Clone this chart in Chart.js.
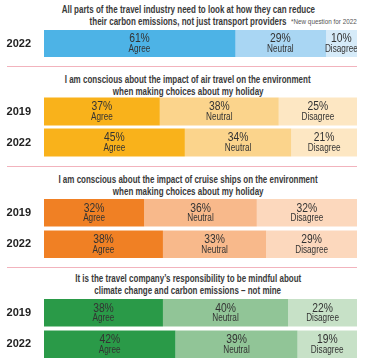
<!DOCTYPE html>
<html>
<head>
<meta charset="utf-8">
<script src="https://cdn.jsdelivr.net/npm/chart.js@4/dist/chart.umd.min.js"></script>
<style>
  html, body { margin: 0; padding: 0; background: #fff; }
  body { width: 365px; height: 363px; position: relative; overflow: hidden;
         font-family: "Liberation Sans", Arial, sans-serif; }
  .title { position: absolute; left: 13px; width: 350px; text-align: center;
           font-size: 10px; line-height: 11.5px; font-weight: bold; color: #3a3a3a; }
  .title span { display: inline-block; white-space: nowrap; transform: scaleX(0.8); transform-origin: center; }
  .note { position: absolute; left: 291px; top: 17px; font-size: 7.2px; color: #555; white-space: nowrap;
          transform: scaleX(0.88); transform-origin: left center; }
  .sep { position: absolute; left: 7px; width: 350px; height: 1px; background: #f2b3bd; }
  .box { position: absolute; left: 0; width: 357px; }
</style>
</head>
<body>
<div class="title" id="t1" style="top:4px"></div>
<div class="note">*New question for 2022</div>
<div class="sep" style="top:66px"></div>
<div class="title" id="t2" style="top:74px"></div>
<div class="sep" style="top:166px"></div>
<div class="title" id="t3" style="top:174px"></div>
<div class="sep" style="top:267px"></div>
<div class="title" id="t4" style="top:273px"></div>

<div class="box" style="top:30px;height:27px"><canvas id="c1"></canvas></div>
<div class="box" style="top:96px;height:62px"><canvas id="c2"></canvas></div>
<div class="box" style="top:197px;height:63px"><canvas id="c3"></canvas></div>
<div class="box" style="top:297px;height:63px"><canvas id="c4"></canvas></div>

<script>
// ---- data ----
const responseLabels = ['Agree', 'Neutral', 'Disagree'];

const industryTitle = ['All parts of the travel industry need to look at how they can reduce', 'their carbon emissions, not just transport providers'];
const industryYears = ['2022'];
const industryAgree = [61];
const industryNeutral = [29];
const industryDisagree = [10];

const airTitle = ['I am conscious about the impact of air travel on the environment', 'when making choices about my holiday'];
const airYears = ['2019', '2022'];
const airAgree = [37, 45];
const airNeutral = [38, 34];
const airDisagree = [25, 21];

const cruiseTitle = ['I am conscious about the impact of cruise ships on the environment', 'when making choices about my holiday'];
const cruiseYears = ['2019', '2022'];
const cruiseAgree = [32, 38];
const cruiseNeutral = [36, 33];
const cruiseDisagree = [32, 29];

const companyTitle = ['It is the travel company\u2019s responsibility to be mindful about', 'climate change and carbon emissions \u2013 not mine'];
const companyYears = ['2019', '2022'];
const companyAgree = [38, 42];
const companyNeutral = [40, 39];
const companyDisagree = [22, 19];

// ---- colours ----
const blueColors = ['#4db3e6', '#a9d6f3', '#d6ebf9'];
const goldColors = ['#f9b21b', '#fbd48c', '#fde7c3'];
const orangeColors = ['#f08024', '#f8b98b', '#fcd8bd'];
const greenColors = ['#2a9a48', '#91c597', '#c7e1c7'];

const FONT = '"Liberation Sans", Arial, sans-serif';

function setTitle(id, lines) {
  document.getElementById(id).innerHTML = lines.map(l => '<span>' + l + '</span>').join('<br>');
}
setTitle('t1', industryTitle);
setTitle('t2', airTitle);
setTitle('t3', cruiseTitle);
setTitle('t4', companyTitle);

function scaledText(ctx, txt, x, y, sx) {
  ctx.save();
  ctx.translate(x, y);
  ctx.scale(sx, 1);
  ctx.fillText(txt, 0, 0);
  ctx.restore();
}

const labelPlugin = {
  id: 'segLabels',
  afterDatasetsDraw(chart) {
    const ctx = chart.ctx;
    ctx.save();
    ctx.textAlign = 'center';
    ctx.textBaseline = 'middle';
    ctx.fillStyle = '#333';
    chart.data.datasets.forEach((ds, i) => {
      const meta = chart.getDatasetMeta(i);
      meta.data.forEach((bar, j) => {
        const p = bar.getProps(['x', 'y', 'base'], true);
        const cx = (p.x + p.base) / 2;
        ctx.font = '12px ' + FONT;
        scaledText(ctx, ds.data[j] + '%', cx, p.y - 4.5, 0.86);
        ctx.font = '10px ' + FONT;
        scaledText(ctx, ds.label, cx, p.y + 5.5, 0.82);
      });
    });
    ctx.restore();
  }
};

function makeChart(id, years, a, n, d, colors, barPct) {
  const vals = [a, n, d];
  new Chart(document.getElementById(id), {
    type: 'bar',
    data: {
      labels: years,
      datasets: responseLabels.map((lab, i) => ({
        label: lab,
        data: vals[i],
        backgroundColor: colors[i],
        borderWidth: 0,
        barPercentage: barPct,
        categoryPercentage: 1
      }))
    },
    options: {
      indexAxis: 'y',
      responsive: true,
      maintainAspectRatio: false,
      animation: false,
      events: [],
      layout: { padding: 0 },
      plugins: { legend: { display: false }, tooltip: { enabled: false }, title: { display: false } },
      scales: {
        x: { stacked: true, min: 0, max: 100, display: false },
        y: {
          stacked: true,
          grid: { display: false, drawTicks: false },
          border: { display: false },
          ticks: { color: '#222', font: { family: FONT, size: 11, weight: 'bold' }, padding: 13 },
          afterFit(scale) {
            scale.width = 44;
            scale.paddingTop = 0;
            scale.paddingBottom = 0;
          }
        }
      }
    },
    plugins: [labelPlugin]
  });
}

makeChart('c1', industryYears, industryAgree, industryNeutral, industryDisagree, blueColors, 1);
makeChart('c2', airYears, airAgree, airNeutral, airDisagree, goldColors, 0.9);
makeChart('c3', cruiseYears, cruiseAgree, cruiseNeutral, cruiseDisagree, orangeColors, 0.88);
makeChart('c4', companyYears, companyAgree, companyNeutral, companyDisagree, greenColors, 0.88);
</script>
</body>
</html>
